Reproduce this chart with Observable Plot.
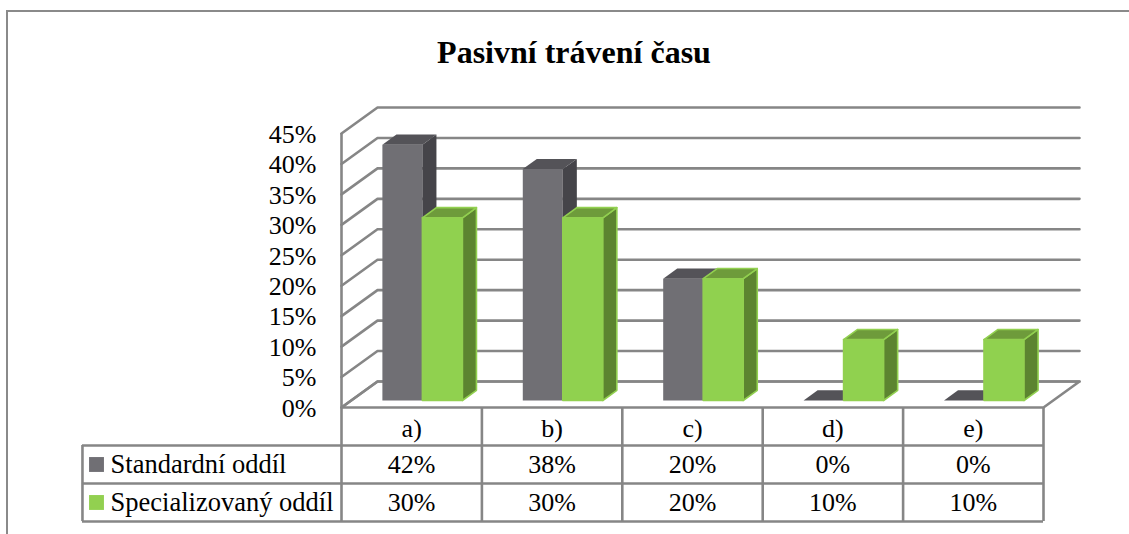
<!DOCTYPE html>
<html lang="cs">
<head>
<meta charset="utf-8">
<script src="https://cdn.jsdelivr.net/npm/d3@7"></script>
<script src="https://cdn.jsdelivr.net/npm/@observablehq/plot@0.6"></script>
<style>
html,body{margin:0;padding:0;background:#fff;width:1129px;height:534px;overflow:hidden}
body{position:relative;font-family:"Liberation Serif",serif}
#frame{position:absolute;left:6px;top:10px;width:1123px;height:524px;box-sizing:border-box;border-left:2.5px solid #8a8a8a;border-top:2.5px solid #8a8a8a}
#title{position:relative;height:90px;box-sizing:border-box;padding-top:33px;text-align:center;font:bold 32px/38px "Liberation Serif",serif;color:#000;padding-left:19px}
#chart svg{display:block}
</style>
</head>
<body>
<div id="frame"></div>
<div id="title">Pasivní trávení času</div>
<div id="chart"></div>
<script>
const categories = ["a)", "b)", "c)", "d)", "e)"];
const standardni = [42, 38, 20, 0, 0];
const specializovany = [30, 30, 20, 10, 10];
const seriesNames = ["Standardní oddíl", "Specializovaný oddíl"];
const percentTicks = [0, 5, 10, 15, 20, 25, 30, 35, 40, 45];

const gridColor = "#868686";
const faceColors = [
  {front: "#706f74", top: "#545358", side: "#454449", edge: "none", key: "#706f74"},
  {front: "#90d14f", top: "#6e9b3b", side: "#5c8430", edge: "#92d050", key: "#92d050"}
];

// Depth of the wall box in scale units
const depthX = 0.2564, depthY = 4.27;
const project = (x, v, d) => ({x: x + d * depthX, y: v + d * depthY});
const poly = pts => [...pts, pts[0]];

// Bar geometry in scale units
const barStart = 0.222, barWidth = 0.285, d0 = 0.27, d1 = 0.66;
const faces = (i, s, v) => {
  const a = i + barStart + s * barWidth, b = a + barWidth;
  return {
    front: poly([project(a, 0, d0), project(b, 0, d0), project(b, v, d0), project(a, v, d0)]),
    top: poly([project(a, v, d0), project(b, v, d0), project(b, v, d1), project(a, v, d1)]),
    side: poly([project(b, 0, d0), project(b, 0, d1), project(b, v, d1), project(b, v, d0)])
  };
};
const faceRows = (values, s, name) => values.flatMap((v, i) => {
  if (name !== "top" && v === 0) return [];
  return faces(i, s, v)[name].map(p => ({...p, category: categories[i]}));
});

// Table rows, in y scale units below zero
const rowH = 6.24;
const tableBottom = -3 * rowH;
const tableLeft = -1.845;
const labelX = -1.645, keyX = -1.745;
const catCentre = i => i + 0.5;

const wallLines = percentTicks.flatMap(t => [project(0, t, 0), project(0, t, 1), project(5, t, 1)].map(p => ({...p, t})));
const floor = poly([project(0, 0, 0), project(5, 0, 0), project(5, 0, 1), project(0, 0, 1)]);

const barMarks = [standardni, specializovany].flatMap((values, s) =>
  ["front", "side", "top"].map(name => Plot.line(faceRows(values, s, name), {
    x: "x", y: "y", z: "category",
    fill: faceColors[s][name],
    stroke: faceColors[s].edge,
    strokeWidth: 1.6,
    strokeLinejoin: "round"
  }))
);

const cellRows = [standardni, specializovany].flatMap((values, r) =>
  values.map((v, i) => ({x: catCentre(i), y: -(r + 1.5) * rowH - 0.05, label: v + "%"})));

const plot = Plot.plot({
  width: 1129,
  height: 444,
  marginLeft: 341,
  marginRight: 86,
  marginTop: 43,
  marginBottom: 127,
  style: {fontFamily: "Liberation Serif", background: "transparent", overflow: "visible"},
  x: {domain: [0, 5], axis: null},
  y: {domain: [0, 45], axis: null},
  marks: [
    Plot.line(wallLines, {x: "x", y: "y", z: "t", stroke: gridColor, strokeWidth: 2.6}),
    Plot.line(floor, {x: "x", y: "y", stroke: gridColor, strokeWidth: 2.6}),
    Plot.ruleX([0], {y1: tableBottom, y2: 45, stroke: gridColor, strokeWidth: 2.6}),
    // table rules
    Plot.ruleX([1, 2, 3, 4, 5], {y1: tableBottom, y2: 0, stroke: gridColor, strokeWidth: 2.6}),
    Plot.ruleX([tableLeft], {y1: tableBottom, y2: -rowH, stroke: gridColor, strokeWidth: 2.6}),
    Plot.ruleY([-rowH, -2 * rowH, -3 * rowH], {x1: tableLeft, x2: 5, stroke: gridColor, strokeWidth: 2.6}),
    ...barMarks,
    Plot.axisY({
      ticks: percentTicks,
      tickFormat: d => d + "%",
      tickSize: 0,
      tickPadding: 25,
      fontSize: 26,
      dy: 1,
      label: null,
      color: "#000"
    }),
    Plot.text(categories, {
      x: (d, i) => catCentre(i), y: -rowH / 2 - 0.4, text: d => d,
      fontSize: 26, fill: "#000"
    }),
    Plot.text(cellRows, {x: "x", y: "y", text: "label", fontSize: 26, fill: "#000"}),
    Plot.text(seriesNames, {
      x: labelX, y: (d, i) => -(i + 1.5) * rowH + 0.05, text: d => d,
      textAnchor: "start", fontSize: 26.5, fill: "#000"
    }),
    Plot.dot(seriesNames, {
      x: keyX, y: (d, i) => -(i + 1.5) * rowH, symbol: "square", r: 8.4,
      fill: (d, i) => faceColors[i].key, stroke: "none"
    })
  ]
});
document.getElementById("chart").append(plot);
</script>
</body>
</html>
